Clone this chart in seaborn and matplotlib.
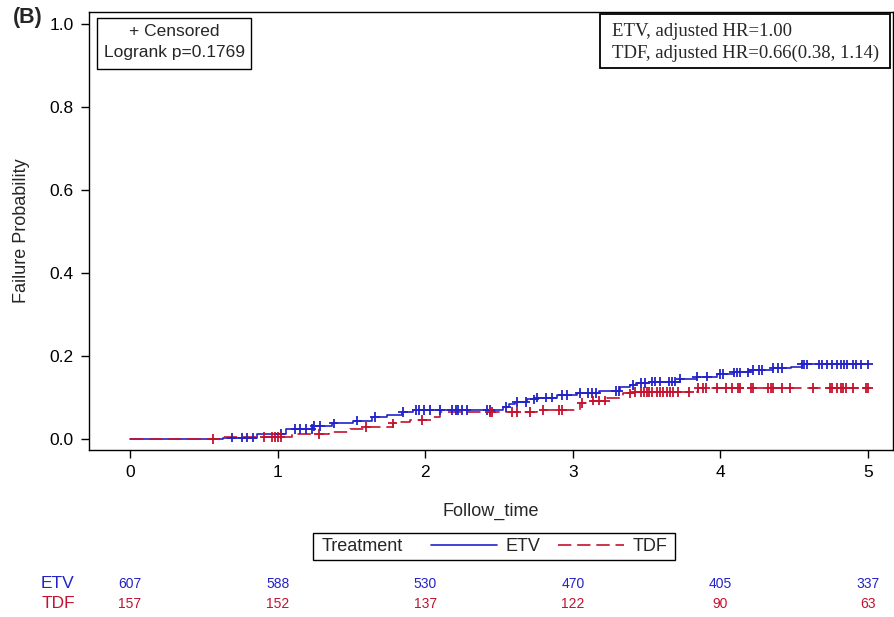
import numpy as np
import pandas as pd
import matplotlib
matplotlib.use("Agg")
import matplotlib.pyplot as plt
import seaborn as sns
from matplotlib.lines import Line2D
from matplotlib.patches import Rectangle
from matplotlib.transforms import blended_transform_factory

# Kaplan-Meier cumulative failure curves (step changes at event times)
etv_times = [0.0, 0.63, 0.86, 1.06, 1.24, 1.37, 1.51, 1.64, 1.74, 1.84, 1.92,
             2.53, 2.57, 2.61, 2.69, 2.76, 2.89, 3.03, 3.18, 3.32, 3.39, 3.43,
             3.52, 3.73, 3.84, 3.98, 4.09, 4.20, 4.36, 4.48, 4.55]
etv_fail = [0.0, 0.003, 0.012, 0.024, 0.031, 0.038, 0.044, 0.053, 0.058, 0.065, 0.070,
            0.077, 0.084, 0.089, 0.096, 0.100, 0.106, 0.111, 0.116, 0.125, 0.130, 0.135,
            0.138, 0.145, 0.150, 0.157, 0.161, 0.166, 0.171, 0.174, 0.180]

tdf_times = [0.0, 0.60, 1.10, 1.35, 1.49, 1.60, 1.78, 1.83, 1.90, 2.05, 2.10,
             2.76, 3.05, 3.10, 3.23, 3.34, 3.41, 3.85]
tdf_fail = [0.0, 0.005, 0.012, 0.017, 0.024, 0.029, 0.038, 0.042, 0.046, 0.053, 0.065,
            0.070, 0.087, 0.092, 0.099, 0.110, 0.113, 0.123]

follow_end = 5.0

# Censoring times
etv_censor = [0.69, 0.76, 0.79, 0.83, 1.02, 1.12, 1.15, 1.19, 1.23, 1.25, 1.29, 1.38,
              1.54, 1.66, 1.85, 1.94, 1.96, 1.99, 2.03, 2.10, 2.18, 2.21, 2.22, 2.25,
              2.28, 2.42, 2.44, 2.55, 2.62, 2.68, 2.74, 2.76, 2.82, 2.86, 2.93, 2.96,
              3.05, 3.10, 3.13, 3.16, 3.29, 3.31, 3.41, 3.46, 3.49, 3.54, 3.56, 3.59,
              3.65, 3.67, 3.69, 3.73, 3.84, 3.91, 4.00, 4.02, 4.09, 4.11, 4.13, 4.19,
              4.22, 4.26, 4.28, 4.36, 4.39, 4.42, 4.55, 4.57, 4.59, 4.67, 4.69, 4.72,
              4.76, 4.79, 4.82, 4.84, 4.86, 4.90, 4.92, 4.95, 5.00]
tdf_censor = [0.56, 0.91, 0.96, 0.98, 1.00, 1.02, 1.28, 1.60, 1.78, 1.98, 2.44, 2.45,
              2.59, 2.62, 2.71, 2.80, 2.91, 2.93, 3.06, 3.14, 3.18, 3.22, 3.39, 3.42,
              3.46, 3.48, 3.50, 3.52, 3.54, 3.57, 3.59, 3.61, 3.64, 3.66, 3.68, 3.71,
              3.79, 3.85, 3.88, 3.90, 3.98, 4.04, 4.08, 4.12, 4.13, 4.21, 4.22, 4.32,
              4.34, 4.36, 4.42, 4.47, 4.63, 4.74, 4.76, 4.79, 4.82, 4.83, 4.85, 4.90,
              4.99, 5.00]

# Numbers at risk
risk_times = [0, 1, 2, 3, 4, 5]
etv_at_risk = [607, 588, 530, 470, 405, 337]
tdf_at_risk = [157, 152, 137, 122, 90, 63]

groups = ["ETV", "TDF"]
colors = {"ETV": "#2323C8", "TDF": "#C4122F"}
dash_tdf = (8, 3.5)

sns.set_style("ticks")
plt.rcParams["font.family"] = ["Liberation Sans", "DejaVu Sans"]

# Assemble long-form tables
curve_rows = []
cens_rows = []
for g, t, f, c in [("ETV", etv_times, etv_fail, etv_censor),
                   ("TDF", tdf_times, tdf_fail, tdf_censor)]:
    tt = list(t) + [follow_end]
    ff = list(f) + [f[-1]]
    for a, b in zip(tt, ff):
        curve_rows.append({"Treatment": g, "Follow_time": a, "Failure": b})
    ta = np.asarray(t)
    fa = np.asarray(f)
    for ct in c:
        idx = np.searchsorted(ta, ct, side="right") - 1
        cens_rows.append({"Treatment": g, "Follow_time": ct, "Failure": fa[idx]})
curves = pd.DataFrame(curve_rows)
cens = pd.DataFrame(cens_rows)

fig = plt.figure(figsize=(8.94, 6.17), dpi=100)
W, H = 894, 617
ax = fig.add_axes([89 / W, 1 - 450 / H, (893 - 89) / W, (450 - 12) / H])

sns.lineplot(data=curves, x="Follow_time", y="Failure", hue="Treatment",
             style="Treatment", palette=colors,
             dashes={"ETV": "", "TDF": dash_tdf},
             estimator=None, sort=False, drawstyle="steps-post",
             linewidth=1.2, legend=False, ax=ax)
sns.scatterplot(data=cens, x="Follow_time", y="Failure", hue="Treatment",
                palette=colors, marker="+", s=45, linewidth=1.3,
                legend=False, ax=ax, zorder=3)

ax.set_xlim(-0.278, 5.17)
ax.set_ylim(-0.0265, 1.029)
ax.set_xticks(range(0, 6))
ax.set_yticks([0.0, 0.2, 0.4, 0.6, 0.8, 1.0])
ax.set_yticklabels([f"{v:.1f}" for v in [0.0, 0.2, 0.4, 0.6, 0.8, 1.0]])
ax.tick_params(axis="both", labelsize=12.5, length=6, width=1, color="black",
               labelcolor="black", pad=5)
for s in ax.spines.values():
    s.set_visible(True)
    s.set_color("black")
    s.set_linewidth(1.0)
ax.set_xlabel("Follow_time", fontsize=13, labelpad=16)
ax.set_ylabel("Failure Probability", fontsize=13, labelpad=14)

# Panel tag
fig.text(13 / W, 1 - 18 / H, "(B)", fontsize=15.5, fontweight="bold",
         ha="left", va="center")

# Censor / log-rank box
fig.patches.append(Rectangle((97 / W, 1 - 69 / H), (251 - 97) / W, (69 - 18) / H,
                             transform=fig.transFigure, fill=True, fc="white",
                             ec="black", lw=1.0, zorder=5))
fig.text(174 / W, 1 - 32 / H, "+ Censored", fontsize=12.5, ha="center", va="center", zorder=6)
fig.text(174 / W, 1 - 53 / H, "Logrank p=0.1769", fontsize=12.5, ha="center", va="center", zorder=6)

# Hazard ratio box
fig.patches.append(Rectangle((600 / W, 1 - 68 / H), (890 - 600) / W, (68 - 14) / H,
                             transform=fig.transFigure, fill=True, fc="white",
                             ec="black", lw=1.3, zorder=5))
serif = ["Liberation Serif", "DejaVu Serif"]
fig.text(612 / W, 1 - 32 / H, "ETV, adjusted HR=1.00", fontsize=13.5,
         family=serif, ha="left", va="center", zorder=6)
fig.text(612 / W, 1 - 53 / H, "TDF, adjusted HR=0.66(0.38, 1.14)", fontsize=13.5,
         family=serif, ha="left", va="center", zorder=6)

# Treatment legend
fig.patches.append(Rectangle((313 / W, 1 - 560 / H), (675 - 313) / W, (560 - 533) / H,
                             transform=fig.transFigure, fill=False, ec="black", lw=1.0))
fig.text(322 / W, 1 - 546.5 / H, "Treatment", fontsize=13, ha="left", va="center")
handles = [Line2D([], [], color=colors["ETV"], lw=1.2),
           Line2D([], [], color=colors["TDF"], lw=1.2, dashes=dash_tdf)]
fig.legend(handles=handles, labels=groups, ncol=2, frameon=False, fontsize=13,
           loc="center", bbox_to_anchor=(549 / W, 1 - 546.5 / H),
           handlelength=3.7, handletextpad=0.45, columnspacing=0.95,
           borderpad=0, borderaxespad=0)

# Numbers at risk
trans = blended_transform_factory(ax.transData, fig.transFigure)
for g, counts, yp in [("ETV", etv_at_risk, 583.5), ("TDF", tdf_at_risk, 603.5)]:
    fig.text(58 / W, 1 - yp / H, g, fontsize=12.5, color=colors[g],
             ha="center", va="center")
    for t, n in zip(risk_times, counts):
        ax.text(t, 1 - yp / H, str(n), transform=trans, fontsize=10,
                color=colors[g], ha="center", va="center", clip_on=False)

fig.savefig("out.png", dpi=100)
